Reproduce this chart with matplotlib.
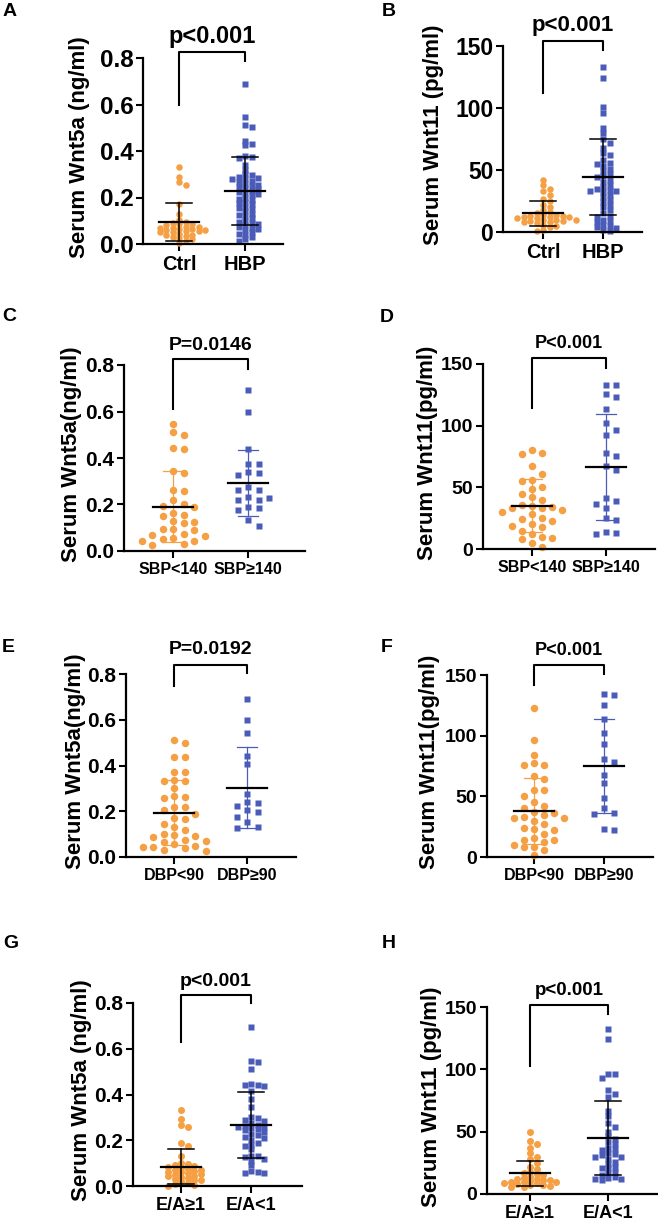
import numpy as np
import matplotlib
matplotlib.use("Agg")
import matplotlib.pyplot as plt
from matplotlib.ticker import FormatStrFormatter

plt.rcParams['font.family'] = ['Liberation Sans', 'DejaVu Sans']
plt.rcParams['font.weight'] = 'bold'

W, H = 658, 1223
ORANGE = '#F5A044'
BLUE = '#4B5CB8'

# ---- values ----
a_ctrl = [0.33, 0.29, 0.265, 0.255, 0.17, 0.13, 0.105, 0.095, 0.09, 0.085, 0.085, 0.08, 0.075, 0.075,
          0.07, 0.07, 0.065, 0.065, 0.06, 0.06, 0.055, 0.055, 0.05, 0.05, 0.045, 0.04, 0.04, 0.035,
          0.03, 0.025, 0.02, 0.015, 0.005]
a_hbp = [0.69, 0.545, 0.51, 0.505, 0.445, 0.43, 0.425, 0.38, 0.375, 0.37, 0.34, 0.32, 0.30, 0.295,
         0.29, 0.285, 0.28, 0.28, 0.27, 0.265, 0.26, 0.255, 0.25, 0.245, 0.24, 0.235, 0.23, 0.225,
         0.22, 0.215, 0.21, 0.2, 0.195, 0.19, 0.18, 0.175, 0.17, 0.16, 0.155, 0.15, 0.14, 0.13,
         0.125, 0.12, 0.11, 0.10, 0.095, 0.09, 0.085, 0.08, 0.075, 0.07, 0.065, 0.06, 0.05, 0.045,
         0.04, 0.03, 0.02, 0.015]
b_ctrl = [42, 38, 35, 33, 30, 27, 25, 22, 20, 18, 16, 15, 14, 14, 13, 13, 12, 12, 12, 11, 11, 10,
          10, 10, 9, 9, 8, 8, 7, 6, 5, 4, 2, 1]
b_hbp = [133, 124, 101, 96, 84, 80, 75, 72, 68, 64, 62, 58, 56, 55, 53, 51, 49, 47, 45, 44, 42, 40,
         38, 36, 35, 34, 33, 33, 32, 30, 28, 26, 24, 22, 20, 18, 15, 13, 12, 10, 9, 8, 6, 5, 4, 3, 2, 1]
c_low = [0.545, 0.51, 0.50, 0.445, 0.44, 0.345, 0.335, 0.262, 0.257, 0.221, 0.204, 0.193, 0.19,
         0.165, 0.155, 0.15, 0.129, 0.125, 0.12, 0.096, 0.095, 0.09, 0.075, 0.07, 0.065, 0.057,
         0.05, 0.045, 0.045, 0.032, 0.025]
c_high = [0.692, 0.599, 0.44, 0.376, 0.375, 0.34, 0.335, 0.326, 0.276, 0.262, 0.262, 0.233, 0.23,
          0.22, 0.218, 0.19, 0.183, 0.175, 0.135, 0.108]
d_low = [80, 78, 77, 67, 61, 56, 55, 50, 49, 45, 42, 40, 36, 35, 34, 33, 33, 32, 30, 28, 25, 24,
         23, 20, 19, 18, 15, 12, 10, 9, 8, 5, 2]
d_high = [133, 133, 125.5, 123.6, 113.6, 102, 96.6, 92.5, 77.7, 75.8, 66.9, 64.2, 41.3, 38.6, 36.4,
          33.2, 25, 23.7, 13.5, 13.0, 12.5]
e_low = [0.512, 0.50, 0.436, 0.435, 0.373, 0.372, 0.335, 0.333, 0.332, 0.30, 0.266, 0.262, 0.26,
         0.219, 0.218, 0.205, 0.19, 0.17, 0.164, 0.146, 0.13, 0.12, 0.099, 0.095, 0.09, 0.088,
         0.076, 0.07, 0.065, 0.056, 0.05, 0.045, 0.045, 0.04, 0.029, 0.025]
e_high = [0.69, 0.599, 0.541, 0.443, 0.405, 0.275, 0.24, 0.234, 0.224, 0.205, 0.197, 0.175, 0.152,
          0.132, 0.127]
f_low = [122.5, 96.3, 84, 77.6, 76, 75.5, 66.9, 64.1, 55.6, 55, 50.1, 45.4, 41.8, 40, 37, 36, 34.4,
         33, 32.5, 32, 30, 27, 24, 23.4, 22, 19, 16, 14.3, 14, 12, 10, 8.3, 8, 5.5, 1.4]
f_high = [134, 133.5, 125, 114, 102, 93, 80.4, 78, 67.4, 61, 49, 40.7, 36.3, 35.8, 22.8, 22]
g_norm = [0.333, 0.292, 0.267, 0.257, 0.19, 0.175, 0.131, 0.099, 0.095, 0.09, 0.088, 0.085, 0.08,
          0.075, 0.072, 0.07, 0.065, 0.062, 0.06, 0.055, 0.052, 0.05, 0.045, 0.042, 0.04, 0.035,
          0.03, 0.027, 0.025, 0.02, 0.015, 0.01, 0.005, 0.002]
g_low = [0.693, 0.547, 0.54, 0.512, 0.445, 0.442, 0.44, 0.435, 0.415, 0.38, 0.347, 0.30, 0.298, 0.29,
         0.285, 0.275, 0.268, 0.262, 0.26, 0.258, 0.252, 0.248, 0.243, 0.235, 0.228, 0.222, 0.215,
         0.21, 0.2, 0.187, 0.18, 0.175, 0.16, 0.132, 0.13, 0.127, 0.12, 0.11, 0.09, 0.065, 0.06,
         0.057, 0.055]
h_norm = [49.4, 42.7, 40, 37.1, 32.6, 30, 28, 25, 21.9, 20, 18, 17, 16, 15, 14, 13, 12, 12, 11, 11,
          10.5, 10, 10, 9.5, 9, 8.5, 8, 7.5, 7, 6.5, 6, 6]
h_low = [132.6, 124.4, 96.6, 96, 93.4, 83.3, 80.6, 78, 66.7, 62.7, 56.6, 54, 49.9, 46.4, 44, 42, 40,
         36.6, 36, 35, 32.6, 32, 31, 30, 30, 28, 25.9, 24, 22, 21, 20.6, 18, 17, 15, 14, 12.5, 12,
         12, 11]

# mean and SD drawn on the figure
means = {'A': [0.095, 0.228], 'B': [15.2, 44.2], 'C': [0.19, 0.293], 'D': [35.1, 66.4],
         'E': [0.194, 0.303], 'F': [38.0, 74.9], 'G': [0.085, 0.266], 'H': [16.5, 45.1]}
sds = {'A': [0.08, 0.148], 'B': [10.0, 30.5], 'C': [0.153, 0.141], 'D': [21.6, 43.0],
       'E': [0.142, 0.177], 'F': [27.5, 38.5], 'G': [0.077, 0.143], 'H': [10.2, 29.6]}

values = {'A': (a_ctrl, a_hbp), 'B': (b_ctrl, b_hbp), 'C': (c_low, c_high), 'D': (d_low, d_high),
          'E': (e_low, e_high), 'F': (f_low, f_high), 'G': (g_norm, g_low), 'H': (h_norm, h_low)}

group_labels = {'A': ['Ctrl', 'HBP'], 'B': ['Ctrl', 'HBP'],
                'C': ['SBP<140', 'SBP\u2265140'], 'D': ['SBP<140', 'SBP\u2265140'],
                'E': ['DBP<90', 'DBP\u226590'], 'F': ['DBP<90', 'DBP\u226590'],
                'G': ['E/A\u22651', 'E/A<1'], 'H': ['E/A\u22651', 'E/A<1']}
ylabels = {'A': 'Serum Wnt5a (ng/ml)', 'B': 'Serum Wnt11 (pg/ml)',
           'C': 'Serum Wnt5a(ng/ml)', 'D': 'Serum Wnt11(pg/ml)',
           'E': 'Serum Wnt5a(ng/ml)', 'F': 'Serum Wnt11(pg/ml)',
           'G': 'Serum Wnt5a (ng/ml)', 'H': 'Serum Wnt11 (pg/ml)'}
pvals = {'A': 'p<0.001', 'B': 'p<0.001', 'C': 'P=0.0146', 'D': 'P<0.001',
         'E': 'P=0.0192', 'F': 'P<0.001', 'G': 'p<0.001', 'H': 'p<0.001'}
wnt5a_ticks = [0.0, 0.2, 0.4, 0.6, 0.8]
wnt11_ticks = [0, 50, 100, 150]

# ---- layout in pixels: axes box (x0, x1, ytop, ybot), group centres, letter pos ----
# d = marker px, step = column spacing px, vf = vertical packing factor
LAYOUT = {
    'A': dict(box=(143, 283, 58, 244), grp=(179, 245), letter=(10, 12), ylab_x=80, d=6.5, step=6.5, vf=0.7,
              br=(0.60, 0.825, 0.786, 0.894), tfs=17.5, xfs=14.5, pfs=17, sdcol=False),
    'B': dict(box=(503, 642, 46, 232), grp=(543, 603), letter=(389, 11), ylab_x=434, d=6.5, step=6.5, vf=0.7,
              br=(112, 153.8, 146.5, 166.6), tfs=16.5, xfs=14.5, pfs=16, sdcol=False),
    'C': dict(box=(124, 305, 365, 551), grp=(173, 248), letter=(9, 317), ylab_x=72, d=7.5, step=10.5, vf=1.0,
              br=(0.609, 0.826, 0.783, 0.886), tfs=15, xfs=11.5, pfs=14, sdcol=True),
    'D': dict(box=(483, 655, 364, 549), grp=(532, 606), letter=(387, 318), ylab_x=427, d=7.5, step=10, vf=1.0,
              br=(114, 154.6, 147, 166.7), tfs=14, xfs=11.5, pfs=13, sdcol=True),
    'E': dict(box=(126, 296, 674, 857), grp=(174, 247), letter=(8, 647), ylab_x=75, d=7.5, step=10.5, vf=1.0,
              br=(0.749, 0.84, 0.804, 0.906), tfs=15, xfs=11.5, pfs=14, sdcol=True),
    'F': dict(box=(487, 653, 675, 857), grp=(534, 604), letter=(387, 647), ylab_x=430, d=7.5, step=10, vf=1.0,
              br=(141.7, 158, 151, 170.6), tfs=14, xfs=11.5, pfs=13, sdcol=True),
    'G': dict(box=(133, 302, 1003, 1186), grp=(181, 251), letter=(11, 943), ylab_x=81, d=7, step=6.5, vf=0.6,
              br=(0.628, 0.836, 0.80, 0.895), tfs=15, xfs=13, pfs=14, sdcol=False),
    'H': dict(box=(487, 658, 1007, 1194), grp=(530, 608), letter=(389, 943), ylab_x=432, d=7, step=6.5, vf=0.6,
              br=(102.5, 151.3, 144, 163.3), tfs=14, xfs=13, pfs=13.5, sdcol=False),
}


def column_swarm(vals, py, dist, step):
    # place points in discrete columns, nearest to centre first, no vertical clash within a column
    ypx = np.asarray(vals, dtype=float) * py
    order = np.argsort(-ypx)
    cols = {}
    xs = np.zeros(len(ypx))
    seq = [0]
    for k in range(1, 30):
        seq += [k, -k]
    for i in order:
        for k in seq:
            if all(abs(ypx[i] - yy) >= dist for yy in cols.get(k, [])):
                cols.setdefault(k, []).append(ypx[i])
                xs[i] = k * step
                break
    return xs


def draw_panel(fig, key):
    lay = LAYOUT[key]
    x0, x1, ytop, ybot = lay['box']
    g0, g1 = lay['grp']
    unit = g1 - g0
    is5a = '5a' in ylabels[key]
    ymax = 0.8 if is5a else 150
    ax = fig.add_axes([x0 / W, 1 - ybot / H, (x1 - x0) / W, (ybot - ytop) / H])
    ax.set_xlim(-(g0 - x0) / unit, 1 + (x1 - g1) / unit)
    ax.set_ylim(0, ymax)
    py = (ybot - ytop) / ymax

    colors = [ORANGE, BLUE]
    markers = ['o', 's']
    d = lay['d']
    for gi, vals in enumerate(values[key]):
        xs = column_swarm(vals, py, d * lay['vf'], lay['step']) / unit + gi
        ms = d * 72 / 100 * (1.0 if gi == 0 else 0.88)
        ax.plot(xs, vals, markers[gi], ms=ms, color=colors[gi], mec='none', clip_on=False, zorder=2)

        m, s = means[key][gi], sds[key][gi]
        ecol = colors[gi] if lay['sdcol'] else 'black'
        elw = 0.9 if lay['sdcol'] else 1.1
        hw = 20 / unit
        cw = (10 if lay['sdcol'] else 13) / unit
        ax.plot([gi, gi], [m - s, m + s], color=ecol, lw=elw, zorder=3, clip_on=False)
        ax.plot([gi - cw, gi + cw], [m + s, m + s], color=ecol, lw=elw, zorder=3)
        ax.plot([gi - cw, gi + cw], [max(m - s, 0), max(m - s, 0)], color=ecol, lw=elw, zorder=3)
        ax.plot([gi - hw, gi + hw], [m, m], color='black', lw=1.6, zorder=4)

    lb, top, rb, ty = lay['br']
    ax.plot([0, 0, 1, 1], [lb, top, top, rb], color='black', lw=1.5, clip_on=False)
    ax.text(0.5, ty, pvals[key], ha='center', va='center', fontsize=lay['pfs'],
            fontweight='bold', clip_on=False)

    for side in ['top', 'right']:
        ax.spines[side].set_visible(False)
    for side in ['left', 'bottom']:
        ax.spines[side].set_linewidth(1.6)
    ax.set_yticks(wnt5a_ticks if is5a else wnt11_ticks)
    if is5a:
        ax.yaxis.set_major_formatter(FormatStrFormatter('%.1f'))
    ax.set_xticks([0, 1])
    ax.set_xticklabels(group_labels[key], fontsize=lay['xfs'], fontweight='bold')
    ax.tick_params(axis='y', direction='out', length=5, width=1.5, pad=2, labelsize=lay['tfs'])
    ax.tick_params(axis='x', direction='out', length=5, width=1.5, pad=3)

    fig.text(lay['ylab_x'] / W, 1 - ((ytop + ybot) / 2 - 4) / H, ylabels[key], rotation=90,
             ha='center', va='center', fontsize=16, fontweight='bold')
    lx, ly = lay['letter']
    fig.text(lx / W, 1 - ly / H, key, ha='center', va='center', fontsize=14, fontweight='bold')


def main():
    fig = plt.figure(figsize=(W / 100, H / 100), dpi=100)
    for key in 'ABCDEFGH':
        draw_panel(fig, key)
    fig.savefig('out.png', dpi=100)
    plt.close(fig)


if __name__ == "__main__":
    main()
